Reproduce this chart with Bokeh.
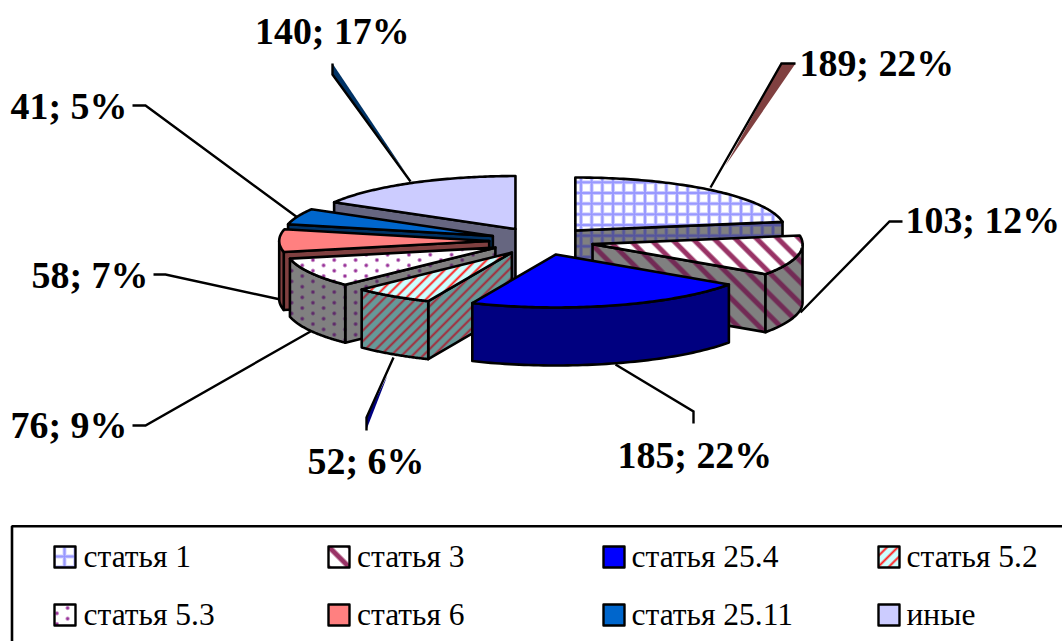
import base64, struct, zlib
import numpy as np
from bokeh.plotting import figure
from bokeh.models import Range1d, ImageURLTexture
from bokeh.core.properties import value
from bokeh.embed import file_html
from bokeh.resources import INLINE

# ---- data ----
categories = ["статья 1", "статья 3", "статья 25.4", "статья 5.2",
              "статья 5.3", "статья 6", "статья 25.11", "иные"]
counts = [189, 103, 185, 52, 76, 58, 41, 140]
top_fill = ["#ffffff", "#ffffff", "#0000ff", "#ccffff", "#ffffff", "#ff8080", "#0066cc", "#ccccff"]
side_fill = ["#808080", "#808080", "#000080", "#669999", "#808080", "#804040", "#003366", "#666680"]
top_hatch = ["#9999ff", "#993366", None, "#ff2222", "#993399", None, None, None]
side_hatch = ["#55559c", "#722a55", None, "#a52a3a", "#5e2a6a", None, None, None]
patterns = ["grid", "down", None, "up", "dots", None, None, None]

# ---- geometry of the exploded pie ----
CX, CY, RX, RY, DEPTH, EX, EY = 541.0, 240.6, 210.0, 53.0, 58.0, 52.3, 13.9
LW = 2.6
TILE = 64
P = TILE / 6
FONT = "Liberation Serif"

# pattern tiles, anchored to page coordinates, with soft edges
_g = np.arange(TILE) + 0.5
X, Y = np.meshgrid(_g, _g)
SOFT = 0.9


def wrapdist(v, period):
    return np.abs((v + period / 2) % period - period / 2)


def soft(d, w):
    return np.clip((w + SOFT - d) / (2 * SOFT), 0, 1)


def alpha(kind, px, py):
    if kind == "grid":
        return np.maximum(soft(wrapdist(X - px, P), 1.5), soft(wrapdist(Y - py, P), 1.5))
    if kind == "down":
        return soft(wrapdist(X - Y - px, 2 * P) * 0.707, 2.5)
    if kind == "up":
        return soft(wrapdist(X + Y - px, P) * 0.707, 1.0)
    if kind == "dots":
        a = wrapdist(X - px, 2 * P) ** 2 + wrapdist(Y - py, P) ** 2
        b = wrapdist(X - px - P, 2 * P) ** 2 + wrapdist(Y - py - P / 2, P) ** 2
        return soft(np.sqrt(np.minimum(a, b)), 1.7)
    raise ValueError(kind)


def png(color, a):
    r, g, b = (int(color[i:i + 2], 16) for i in (1, 3, 5))
    rows = b""
    for row in a:
        rows += b"\0" + b"".join(bytes((r, g, b, int(v * 255))) for v in row)

    def chunk(t, d):
        return struct.pack(">I", len(d)) + t + d + struct.pack(">I", zlib.crc32(t + d) & 0xffffffff)

    data = b"\x89PNG\r\n\x1a\n" + chunk(b"IHDR", struct.pack(">IIBBBBB", TILE, TILE, 8, 6, 0, 0, 0)) \
        + chunk(b"IDAT", zlib.compress(rows)) + chunk(b"IEND", b"")
    return "data:image/png;base64," + base64.b64encode(data).decode()


textures = {}


def tex(kind, color, px, py):
    key = f"{kind}_{color[1:]}_{px:.2f}_{py:.2f}"
    if key not in textures:
        textures[key] = ImageURLTexture(url=png(color, alpha(kind, px, py)))
    return key


phase = {"grid": (5.0, 1.0), "down": (6.1, 0.0), "up": (0.0, 0.0), "dots": (3.6, 9.4)}
swatch_phase = {"grid": (64.5 % P, 556.5 % P), "down": ((338.5 - 556.5) % (2 * P), 0.0),
                "up": ((888.5 + 556.5) % P, 0.0), "dots": (67.6 % (2 * P), 608.0 % P)}

p = figure(width=1062, height=641, x_range=Range1d(0, 1062), y_range=Range1d(641, 0),
           output_backend="svg", toolbar_location=None, min_border=0,
           outline_line_color=None, background_fill_color="white", border_fill_color="white")
p.axis.visible = False
p.grid.visible = False


def face(xs, ys, fill, hatch, pat, ph=phase, lw=LW):
    kw = dict(fill_color=fill, line_color="black", line_width=lw, line_join="round")
    if pat is not None:
        key = tex(pat, hatch, *ph[pat])
        kw.update(hatch_pattern=key, hatch_color=hatch, hatch_scale=TILE, hatch_extra={key: textures[key]})
    p.patch(list(xs), list(ys), **kw)


total = sum(counts)
edges = np.cumsum([0] + counts) / total * 2 * np.pi
H90, H270 = np.pi / 2, 3 * np.pi / 2

# leaders first, they pass behind the pie
leaders = [
    ([710, 781, 795], [187, 63, 63], [795, 725], [63, 165], "#804040"),
    ([800, 889, 902], [312, 221, 221], None, None, None),
    ([615, 693, 693], [364, 411, 423], None, None, None),
    ([393, 366, 366], [357, 417, 430], [366, 387], [429, 375], "#000080"),
    ([310, 145, 132], [331, 425, 425], None, None, None),
    ([280, 165, 153], [299, 274, 274], None, None, None),
    ([297, 145, 132], [217, 105, 105], None, None, None),
    ([410, 332, 332], [181, 74, 63], [332, 405], [63, 172], "#003366"),
]
for lx, ly, sx, sy, col in leaders:
    if sx is not None:
        p.patch([lx[1]] + sx, [ly[1]] + sy, fill_color=col, line_color=None)
    p.line(lx, ly, line_color="black", line_width=2.4, line_join="miter")

# back-to-front order
for i in [0, 7, 6, 5, 4, 3, 1, 2]:
    a, b = edges[i], edges[i + 1]
    mid = (a + b) / 2
    ax, ay = CX + EX * np.sin(mid), CY - EY * np.cos(mid)
    pt = lambda t: (ax + RX * np.sin(t), ay - RY * np.cos(t))
    for t, vis in ((a, np.sin(a) < 0), (b, np.sin(b) > 0)):
        if vis:
            x, y = pt(t)
            face([ax, x, x, ax], [ay, y, y + DEPTH, ay + DEPTH], side_fill[i], side_hatch[i], patterns[i])
    lo, hi = max(a, H90), min(b, H270)
    if hi > lo:
        t = np.linspace(lo, hi, 60)
        x, y = pt(t)
        face(np.r_[x, x[::-1]], np.r_[y, y[::-1] + DEPTH], side_fill[i], side_hatch[i], patterns[i])
    t = np.linspace(a, b, 80)
    x, y = pt(t)
    face(np.r_[ax, x], np.r_[ay, y], top_fill[i], top_hatch[i], patterns[i])

# data labels
LABEL_SIZE = 37.9
label_x = [799, 905, 617, 307, 10, 31, 10, 254.5]
label_y = [76, 233, 468, 474, 438, 288, 119, 44]
labels = [f"{v}; {round(100 * v / total)}%" for v in counts]
p.text(label_x, label_y, text=labels, text_font=value(FONT), text_font_style="bold",
       text_font_size=f"{LABEL_SIZE}px", text_align="left", text_baseline="alphabetic",
       text_color="black", y_offset=-0.35 * LABEL_SIZE)

# legend
p.line([11.5, 11.5, 1062], [641, 525.7, 525.7], line_color="black", line_width=2.6)
LEG_SIZE = 31.5
sw_x = [54, 328, 603, 878]
txt_x = [83, 356.5, 631, 906]
row_y = [546, 604]
text_y = [567.5, 625.5]
SW = 21
for i, name in enumerate(categories):
    c, r = i % 4, i // 4
    x0, y0 = sw_x[c], row_y[r]
    face([x0, x0 + SW, x0 + SW, x0], [y0, y0, y0 + SW, y0 + SW], top_fill[i], top_hatch[i], patterns[i],
         ph=swatch_phase, lw=2.4)
    p.text([txt_x[c]], [text_y[r]], text=[name], text_font=value(FONT),
           text_font_size=f"{LEG_SIZE}px", text_align="left", text_baseline="alphabetic",
           text_color="black", y_offset=-0.35 * LEG_SIZE)

open("out.html", "w").write(file_html(p, INLINE))
